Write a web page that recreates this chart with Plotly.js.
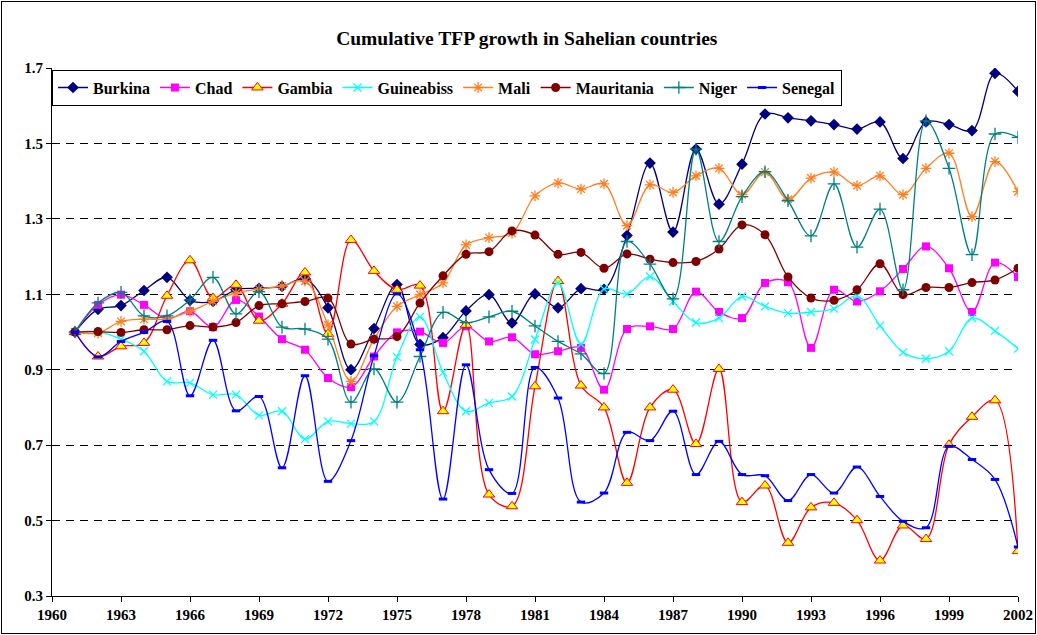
<!DOCTYPE html>
<html>
<head>
<meta charset="utf-8">
<script src="https://cdn.plot.ly/plotly-3.0.1.min.js"></script>
<style>
  html, body { margin: 0; padding: 0; background: #fff; }
  #frame { position: absolute; left: 1px; top: 1px; width: 1033px; height: 631px; border: 1px solid #000; box-sizing: content-box; }
  #chart { position: absolute; left: 0; top: 0; width: 1037px; height: 635px; }
</style>
</head>
<body>
<div id="chart"></div>
<div id="frame" style="pointer-events:none"></div>
<script>
const years = [];
for (let y = 1961; y <= 2002; y++) years.push(y);

const burkina = [1.000,1.060,1.070,1.110,1.145,1.084,1.081,1.112,1.116,1.121,1.141,1.064,0.900,1.009,1.126,0.967,0.985,1.056,1.099,1.024,1.101,1.064,1.115,1.113,1.256,1.448,1.265,1.485,1.339,1.445,1.578,1.568,1.560,1.550,1.538,1.557,1.460,1.557,1.550,1.534,1.686,1.638];
const chad = [1.000,1.072,1.099,1.072,1.035,1.055,1.013,1.085,1.041,0.981,0.953,0.878,0.854,0.935,0.999,1.001,0.971,1.015,0.975,0.986,0.941,0.949,0.958,0.847,1.008,1.015,1.008,1.107,1.053,1.037,1.130,1.132,0.958,1.112,1.081,1.108,1.167,1.227,1.169,1.053,1.184,1.146];
const gambia = [1.000,0.935,0.962,0.971,1.096,1.190,1.090,1.125,1.030,1.075,1.158,0.995,1.244,1.162,1.112,1.123,0.790,1.019,0.569,0.538,0.856,1.135,0.858,0.800,0.600,0.800,0.847,0.703,0.902,0.549,0.593,0.441,0.535,0.547,0.501,0.394,0.487,0.451,0.701,0.775,0.819,0.419];
const guineabiss = [1.000,1.001,0.981,0.949,0.869,0.865,0.834,0.834,0.779,0.790,0.716,0.763,0.757,0.763,0.934,1.040,0.893,0.790,0.812,0.829,0.980,1.130,0.968,1.114,1.101,1.147,1.081,1.025,1.037,1.094,1.068,1.050,1.053,1.062,1.096,1.017,0.946,0.929,0.949,1.037,1.003,0.956];
const mali = [1.000,0.997,1.028,1.034,1.035,1.055,1.081,1.103,1.114,1.122,1.135,1.019,0.869,0.981,1.068,1.099,1.130,1.231,1.250,1.262,1.361,1.395,1.379,1.393,1.282,1.390,1.370,1.414,1.434,1.364,1.424,1.352,1.408,1.424,1.388,1.414,1.364,1.434,1.474,1.306,1.452,1.372];
const mauritania = [1.000,1.001,0.999,1.006,1.006,1.017,1.013,1.025,1.070,1.075,1.081,1.090,0.968,0.981,0.988,1.077,1.149,1.206,1.213,1.268,1.257,1.206,1.211,1.169,1.207,1.193,1.184,1.187,1.220,1.284,1.258,1.146,1.090,1.084,1.112,1.181,1.099,1.118,1.118,1.131,1.138,1.169];
const niger = [1.000,1.077,1.105,1.043,1.043,1.085,1.145,1.048,1.107,1.013,1.008,0.981,0.814,0.902,0.814,0.935,1.052,1.025,1.040,1.055,1.016,0.975,0.942,0.890,1.240,1.180,1.088,1.485,1.240,1.359,1.425,1.348,1.255,1.393,1.225,1.326,1.112,1.560,1.434,1.205,1.525,1.516];
const senegal = [1.000,0.934,0.975,0.999,1.028,0.831,0.978,0.791,0.829,0.640,0.884,0.604,0.712,0.937,1.101,0.953,0.557,0.913,0.635,0.572,0.906,0.825,0.549,0.573,0.734,0.712,0.790,0.622,0.710,0.622,0.619,0.553,0.622,0.573,0.642,0.564,0.498,0.481,0.697,0.662,0.609,0.430];

const yTicks = [0.3,0.5,0.7,0.9,1.1,1.3,1.5,1.7];
const xTicks = [1960,1963,1966,1969,1972,1975,1978,1981,1984,1987,1990,1993,1996,1999,2002];

const serif = 'Liberation Serif, Times New Roman, serif';

function tr(name, y, color, marker) {
  return {
    x: years, y: y, name: name, type: 'scatter', mode: 'lines+markers',
    line: {color: color, width: 1.3, shape: 'spline', smoothing: 1},
    marker: marker,
    hoverinfo: 'x+y+name'
  };
}

const traces = [
  tr('Burkina', burkina, '#000080', {symbol: 'diamond', size: 9, color: '#000080'}),
  tr('Chad', chad, '#FF00FF', {symbol: 'square', size: 8, color: '#FF00FF'}),
  tr('Gambia', gambia, '#FF0000', {symbol: 'triangle-up', size: 10, color: '#FFFF00', line: {color: '#FF0000', width: 1}}),
  tr('Guineabiss', guineabiss, '#00FFFF', {symbol: 'x-thin-open', size: 8, color: '#00FFFF', line: {color: '#00FFFF', width: 1.3}}),
  tr('Mali', mali, '#FF7F20', {symbol: 'asterisk-open', size: 9, color: '#FF7F20', line: {color: '#FF7F20', width: 1.3}}),
  tr('Mauritania', mauritania, '#800000', {symbol: 'circle', size: 9, color: '#800000'}),
  tr('Niger', niger, '#008080', {symbol: 'cross-thin-open', size: 9, color: '#008080', line: {color: '#008080', width: 1.3}}),
  tr('Senegal', senegal, '#0000FF', {symbol: 'line-ew-open', size: 6, color: '#0000FF', line: {color: '#0000FF', width: 3}})
];

const layout = {
  width: 1037, height: 635,
  margin: {l: 52, r: 19, t: 68, b: 39, pad: 0},
  paper_bgcolor: '#fff', plot_bgcolor: '#fff',
  title: {
    text: 'Cumulative TFP growth in Sahelian countries',
    font: {family: serif, size: 19.5, color: '#000', weight: 'bold'},
    x: 0.508, xanchor: 'center', y: 0.94, yanchor: 'middle'
  },
  showlegend: true,
  legend: {
    orientation: 'h', x: 0.0, xanchor: 'left', y: 0.997, yanchor: 'top',
    bgcolor: '#fff', bordercolor: '#000', borderwidth: 1,
    font: {family: serif, size: 16, color: '#000', weight: 'bold'},
    itemwidth: 30, tracegroupgap: 0
  },
  xaxis: {
    range: [1960, 2002], tickmode: 'array', tickvals: xTicks, ticktext: xTicks.map(String),
    showgrid: false, zeroline: false, showline: true, linecolor: '#000', linewidth: 1,
    ticks: 'outside', ticklen: 5, tickcolor: '#000',
    tickfont: {family: serif, size: 15, color: '#000', weight: 'bold'}
  },
  yaxis: {
    range: [0.3, 1.7], tickmode: 'array', tickvals: yTicks, ticktext: yTicks.map(v => v.toFixed(1)),
    showgrid: true, gridcolor: '#000', griddash: '8px,6px', gridwidth: 1,
    zeroline: false, showline: true, linecolor: '#000', linewidth: 1,
    ticks: 'outside', ticklen: 5, tickcolor: '#000',
    tickfont: {family: serif, size: 15, color: '#000', weight: 'bold'}
  }
};

Plotly.newPlot('chart', traces, layout, {displayModeBar: false, staticPlot: true});
</script>
</body>
</html>
